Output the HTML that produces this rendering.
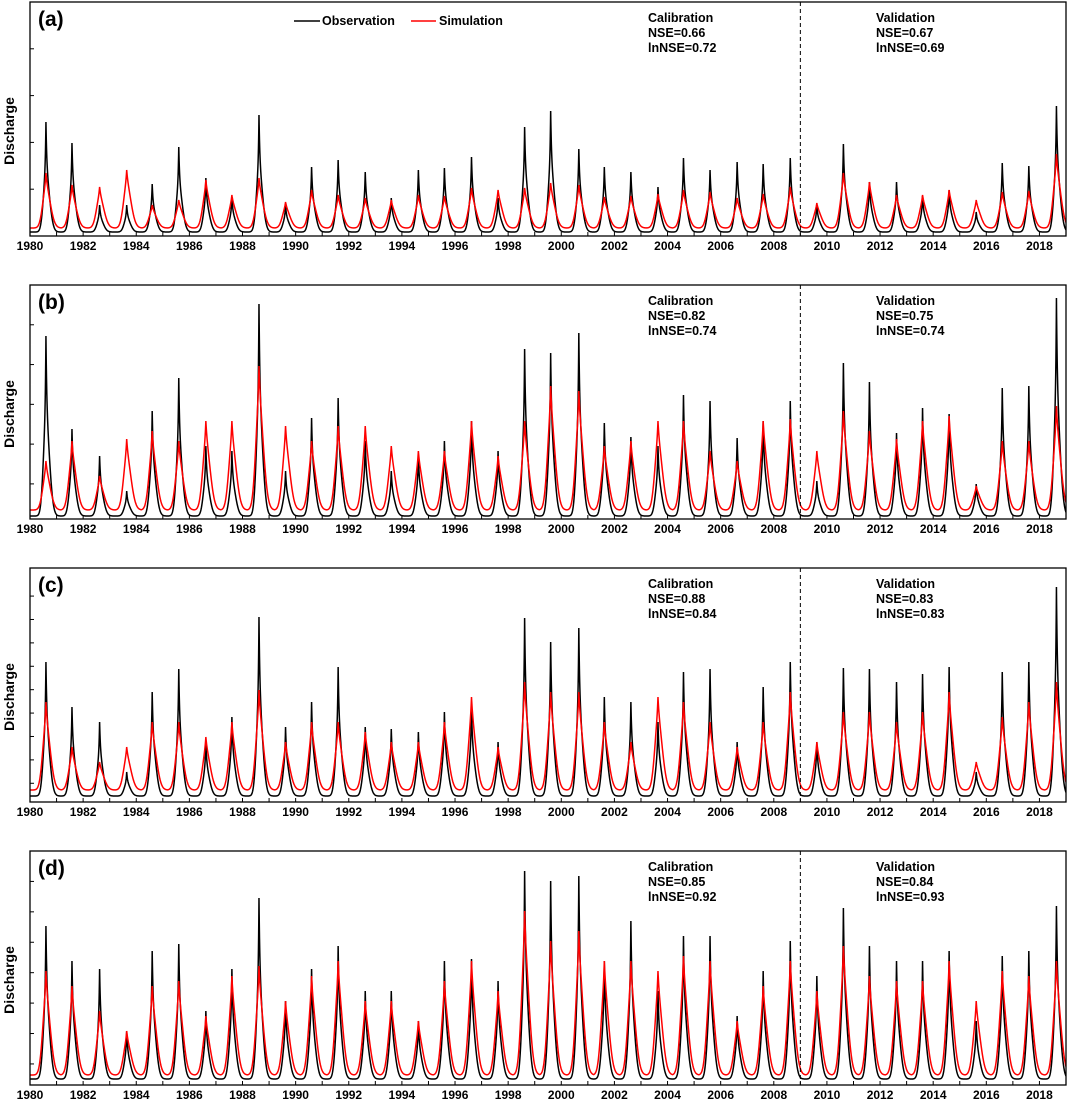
<!DOCTYPE html>
<html><head><meta charset="utf-8"><style>
body{margin:0;background:#fff;}
svg text{font-family:"Liberation Sans",Arial,sans-serif;font-weight:bold;}
</style></head><body>
<svg id="chart" width="1070" height="1112" viewBox="0 0 1070 1112" xmlns="http://www.w3.org/2000/svg"></svg>
<script>
// ---- data (peak heights in relative discharge units; axis 0..234 per panel) ----
const years = [1980,1981,1982,1983,1984,1985,1986,1987,1988,1989,1990,1991,1992,1993,1994,1995,1996,1997,1998,1999,2000,2001,2002,2003,2004,2005,2006,2007,2008,2009,2010,2011,2012,2013,2014,2015,2016,2017,2018];
const xTickLabels = [1980,1982,1984,1986,1988,1990,1992,1994,1996,1998,2000,2002,2004,2006,2008,2010,2012,2014,2016,2018];
const panelLabels = ["(a)","(b)","(c)","(d)"];
const calNSE = ["0.66","0.82","0.88","0.85"];
const calLnNSE = ["0.72","0.74","0.84","0.92"];
const valNSE = ["0.67","0.75","0.83","0.84"];
const valLnNSE = ["0.69","0.74","0.83","0.93"];
const obsA = [114,93,31,31,52,89,58,39,121,31,69,76,64,38,66,68,79,38,109,125,87,69,64,49,78,66,74,72,78,31,92,54,54,40,46,24,73,70,130];
const simA = [63,51,49,66,31,36,56,41,58,34,46,41,38,36,41,40,48,46,48,53,51,39,40,42,46,44,38,42,49,33,63,54,41,41,46,36,44,45,82];
const obsB = [183,90,63,28,108,141,73,68,215,48,101,121,78,48,63,78,98,68,170,166,186,96,82,73,124,118,81,98,118,38,156,137,86,111,105,35,131,133,221];
const simB = [58,78,43,80,88,78,98,98,153,93,78,93,93,73,68,68,98,63,98,133,128,73,78,98,98,68,58,98,100,68,108,88,80,98,103,33,78,78,113];
const obsC = [140,95,80,30,110,133,60,85,185,75,100,135,75,73,70,90,95,60,184,160,174,105,100,80,130,133,60,115,140,60,134,133,120,128,135,30,130,140,215];
const simC = [100,55,40,55,80,80,65,80,112,60,80,80,70,60,60,80,105,55,120,110,110,80,60,105,100,80,55,80,110,60,90,90,80,90,110,40,85,100,120];
const obsD = [159,124,116,54,134,141,74,116,187,84,116,139,94,94,64,124,126,104,214,204,209,124,164,94,149,149,69,114,144,109,177,139,124,124,134,64,129,134,179];
const simD = [114,99,74,54,99,104,69,109,119,84,109,124,84,84,64,104,124,94,174,144,154,124,124,114,129,124,64,99,124,94,139,109,104,104,124,84,114,109,124];
const peakPhase = [0.6,0.58,0.62,0.64,0.6,0.6,0.62,0.6,0.62,0.62,0.6,0.6,0.62,0.6,0.62,0.6,0.62,0.62,0.62,0.6,0.66,0.62,0.62,0.64,0.6,0.6,0.62,0.6,0.62,0.62,0.62,0.6,0.62,0.6,0.6,0.62,0.6,0.6,0.64];
const obsSeries = [obsA,obsB,obsC,obsD];
const simSeries = [simA,simB,simC,simD];
const obsBase = [4,3,6,6];
const simBase = [8,9,12,10];
const yTickFrac = [[0.2,0.4,0.6,0.8],[0.15,0.32,0.49,0.66,0.83],[0.08,0.18,0.28,0.38,0.48,0.58,0.68,0.78,0.88],[0.09,0.22,0.35,0.48,0.61,0.74,0.87]];

// ---- layout ----
const NS="http://www.w3.org/2000/svg";
const svg=document.getElementById('chart');
const X0=30,X1=1066,T0=1980,T1=2019;
const tops=[2,285,568,851],PH=234,YMAX=234;
const xs=t=>X0+(t-T0)/(T1-T0)*(X1-X0);
function mk(tag,attrs,parent){const e=document.createElementNS(NS,tag);for(const k in attrs)e.setAttribute(k,attrs[k]);(parent||svg).appendChild(e);return e;}
function shape(dt,sim){
  if(sim){const s=dt>0?dt/1.5:dt/1.1;return 0.3*Math.exp(-Math.abs(s)/0.035)+0.7*Math.exp(-(s/0.16)*(s/0.16));}
  const s=dt>0?dt/1.4:dt;return 0.5*Math.exp(-Math.abs(s)/0.025)+0.5*Math.exp(-(s/0.14)*(s/0.14));
}
function seriesPath(vals,base,sim,ys){
  let d='';
  for(let t=T0;t<=T1+1e-9;t+=1/150){
    let v=base;
    for(let i=0;i<years.length;i++){
      const tp=years[i]+peakPhase[i];const dt=t-tp;
      if(Math.abs(dt)>0.9)continue;
      v=Math.max(v,base+(vals[i]-base)*shape(dt,sim));
    }
    d+=(d?'L':'M')+xs(t).toFixed(2)+','+ys(v).toFixed(2);
  }
  return d;
}
for(let p=0;p<4;p++){
  const top=tops[p],bot=top+PH;
  const ys=v=>bot-v/YMAX*PH;
  const g=mk('g',{});
  
  
  const cp=mk('clipPath',{id:'cp'+p},g);mk('rect',{x:X0,y:top,width:X1-X0,height:PH},cp);
  const obs=mk('path',{d:seriesPath(obsSeries[p],obsBase[p],false,ys),fill:'none',stroke:'#000','stroke-width':1.5,'clip-path':'url(#cp'+p+')'},g);
  
  
  const sim=mk('path',{d:seriesPath(simSeries[p],simBase[p],true,ys),fill:'none',stroke:'#ff0000','stroke-width':1.5,'clip-path':'url(#cp'+p+')'},g);
  
  
  const fr=mk('rect',{x:X0,y:top,width:X1-X0,height:PH,fill:'none',stroke:'#000','stroke-width':1.3},g);
  
  
  const dl=mk('line',{x1:xs(2009),x2:xs(2009),y1:top,y2:bot,stroke:'#000','stroke-width':1,'stroke-dasharray':'4,3'},g);
  
  
  for(const f of yTickFrac[p]){const tk=mk('line',{x1:X0,x2:X0+4,y1:bot-f*PH,y2:bot-f*PH,stroke:'#000','stroke-width':1},g);
    
    }
  for(let y=T0+1;y<T1;y++){const tk=mk('line',{x1:xs(y),x2:xs(y),y1:bot,y2:bot-4,stroke:'#000','stroke-width':1},g);
    
    }
  for(const y of xTickLabels){const t=mk('text',{x:xs(y),y:bot+14,'font-size':12,'text-anchor':'middle'},g);t.textContent=y;
    
    }
  const pl=mk('text',{x:38,y:top+24,'font-size':21},g);pl.textContent=panelLabels[p];
  
  
  const yt=mk('text',{x:0,y:0,'font-size':14,'text-anchor':'middle',transform:'translate(14,'+(top+PH/2+12)+') rotate(-90)'},g);yt.textContent='Discharge';
  
  
  const lines=[['Calibration','NSE='+calNSE[p],'lnNSE='+calLnNSE[p],648],['Validation','NSE='+valNSE[p],'lnNSE='+valLnNSE[p],876]];
  for(const L of lines){for(let k=0;k<3;k++){const t=mk('text',{x:L[3],y:top+20+k*15,'font-size':12.5},g);t.textContent=L[k];
    
    }}
}
// legend
const lg=mk('g',{});


mk('line',{x1:294,x2:320,y1:21,y2:21,stroke:'#000','stroke-width':1.5},lg);
const l1=mk('text',{x:322,y:25,'font-size':12.5},lg);l1.textContent='Observation';


mk('line',{x1:411,x2:436,y1:21,y2:21,stroke:'#ff0000','stroke-width':1.5},lg);
const l2=mk('text',{x:439,y:25,'font-size':12.5},lg);l2.textContent='Simulation';


</script>
</body></html>
